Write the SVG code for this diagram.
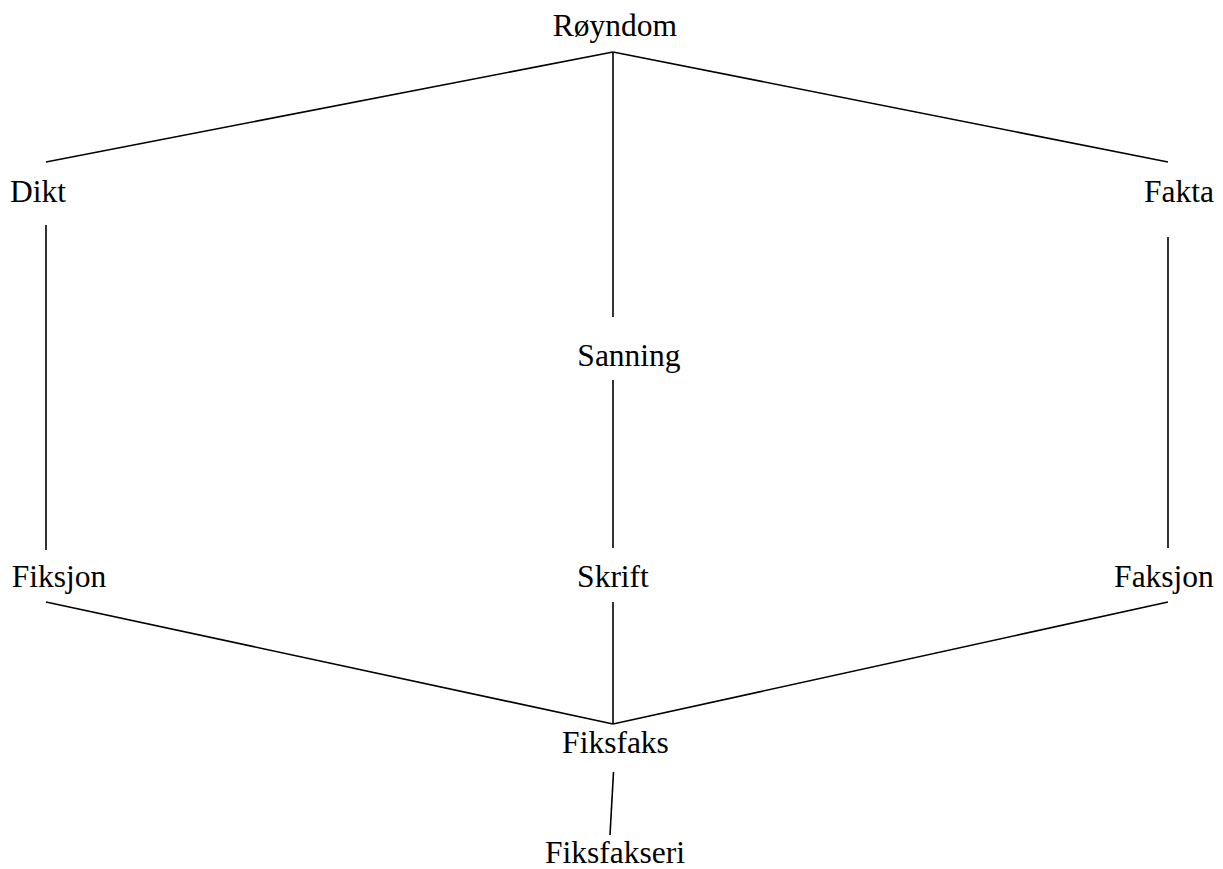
<svg xmlns="http://www.w3.org/2000/svg" width="1223" height="869" viewBox="0 0 1223 869">
<style>
.lbl{font-family:'Liberation Serif','Tinos','Times New Roman',Times,'DejaVu Serif',serif;font-size:31.5px;fill:#000;text-anchor:middle}
.edge{stroke:#000;stroke-width:1.6;fill:none}
</style>
<rect width="1223" height="869" fill="#fff"/>
<g id="connectors">
<line class="edge" x1="613" y1="52" x2="46" y2="162"/>
<line class="edge" x1="613" y1="52" x2="1168" y2="162"/>
<line class="edge" x1="613" y1="52" x2="613" y2="317"/>
<line class="edge" x1="46" y1="225" x2="46" y2="550"/>
<line class="edge" x1="1168" y1="237" x2="1168" y2="548"/>
<line class="edge" x1="613" y1="380" x2="613" y2="548"/>
<line class="edge" x1="46" y1="602" x2="613" y2="724"/>
<line class="edge" x1="1168" y1="602" x2="613" y2="724"/>
<line class="edge" x1="613" y1="602" x2="613" y2="724"/>
<line class="edge" x1="613.5" y1="772" x2="610" y2="835"/>
</g>
<g id="n-royndom"><text class="lbl" x="615" y="36" font-family="Liberation Serif, serif">Røyndom</text></g>
<g id="n-dikt"><text class="lbl" x="38" y="202" font-family="Liberation Serif, serif">Dikt</text></g>
<g id="n-fakta"><text class="lbl" x="1179" y="202" font-family="Liberation Serif, serif">Fakta</text></g>
<g id="n-sanning"><text class="lbl" x="629" y="366" font-family="Liberation Serif, serif">Sanning</text></g>
<g id="n-fiksjon"><text class="lbl" x="59" y="587" font-family="Liberation Serif, serif">Fiksjon</text></g>
<g id="n-skrift"><text class="lbl" x="613" y="587" font-family="Liberation Serif, serif">Skrift</text></g>
<g id="n-faksjon"><text class="lbl" x="1164" y="587" font-family="Liberation Serif, serif">Faksjon</text></g>
<g id="n-fiksfaks"><text class="lbl" x="615.5" y="753" font-family="Liberation Serif, serif">Fiksfaks</text></g>
<g id="n-fiksfakseri"><text class="lbl" x="615" y="863" font-family="Liberation Serif, serif">Fiksfakseri</text></g>
</svg>
